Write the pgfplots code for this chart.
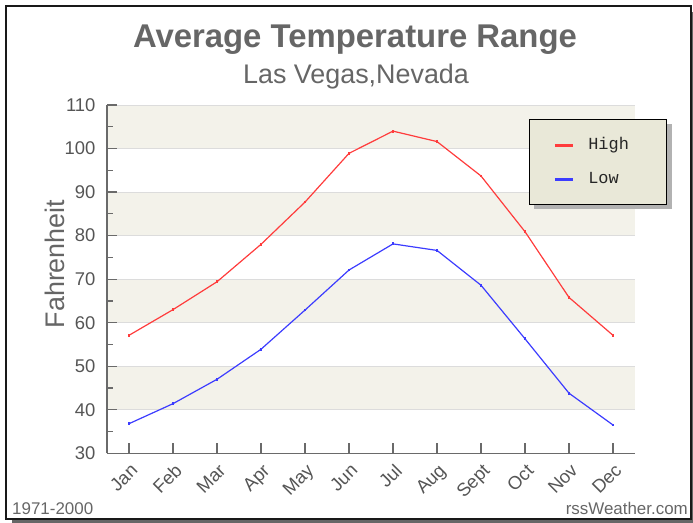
\documentclass[border=0pt]{standalone}
\usepackage{fontspec}
\setmainfont{Liberation Sans}
\newfontfamily\legfont{Liberation Mono}
\usepackage{pgfplots}
\pgfplotsset{compat=1.18}
\definecolor{txtgray}{HTML}{666666}
\definecolor{ticktext}{HTML}{555555}
\definecolor{band}{HTML}{F3F2EA}
\definecolor{gridc}{HTML}{DCDCDC}
\definecolor{axisc}{HTML}{6A6A6A}
\definecolor{hicol}{HTML}{FF3C3C}
\definecolor{locol}{HTML}{3C3CFF}
\definecolor{legbg}{HTML}{E9E8D8}
\begin{document}
\begin{tikzpicture}[x=1bp,y=1bp]
\path (0,0) rectangle (693,-523);
\fill[black!60] (12,-518) rectangle (693,-523);
\fill[black!60] (690,-12) rectangle (693,-523);
\draw[line width=2bp, black!90] (6,-6) rectangle (691,-519);
\fill[black!30] (534,-124) rectangle (672,-209);
\node[anchor=base, text=txtgray, font=\bfseries\fontsize{33}{33}\selectfont] at (355,-48) {Average Temperature Range};
\node[anchor=base, text=txtgray, font=\fontsize{27}{27}\selectfont] at (356,-84) {Las Vegas,Nevada};
\node[anchor=base west, inner sep=0, text=txtgray, font=\fontsize{17}{17}\selectfont] at (12,-514) {1971-2000};
\node[anchor=base east, inner sep=0, text=txtgray, font=\fontsize{17}{17}\selectfont] at (688,-514) {rssWeather.com};
\begin{axis}[
  at={(107bp,-453.3bp)}, anchor=south west,
  scale only axis, width=528bp, height=348.3bp,
  xmin=-0.5, xmax=11.5, ymin=30, ymax=110,
  axis lines*=left,
  axis line style={axisc, line width=1.6bp, -},
  tick align=inside,
  xtick={0,1,2,3,4,5,6,7,8,9,10,11},
  xticklabels={Jan,Feb,Mar,Apr,May,Jun,Jul,Aug,Sept,Oct,Nov,Dec},
  ytick={30,40,50,60,70,80,90,100,110},
  minor ytick={35,45,55,65,75,85,95,105},
  major tick length=10bp, minor tick length=6bp,
  tick style={axisc, line width=1.2bp},
  ymajorgrids, grid style={gridc, line width=1bp},
  set layers,
  /pgf/number format/assume math mode=true,
  ticklabel style={font=\fontsize{18.5}{18.5}\selectfont, text=ticktext},
  yticklabel style={xshift=-8bp},
  xticklabel style={rotate=45, anchor=north east, inner sep=1bp, xshift=-5bp, yshift=-6bp},
  ylabel={Fahrenheit},
  every axis y label/.style={at={(rel axis cs:-0.0985,0.5435)}, rotate=90, anchor=center, font=\fontsize{27}{27}\selectfont, text=txtgray},
  legend style={at={(0.7992,0.9598)}, anchor=north west, draw=black, line width=1.4bp, fill=legbg,
    font=\legfont\fontsize{17}{17}\selectfont, text=black!85,
    inner xsep=24bp, inner ysep=17.5bp, row sep=18bp, column sep=14bp,
    nodes={inner sep=0pt, text height=12bp, text depth=4bp},
    cells={anchor=west}},
  legend image code/.code={\draw[#1, line width=2.6bp, mark=none] (0bp,0bp) -- (18bp,0bp);},
]
\addplot[on layer=axis background, fill=band, draw=none, forget plot] coordinates {(-0.5,100) (11.5,100) (11.5,110) (-0.5,110)} -- cycle;
\addplot[on layer=axis background, fill=band, draw=none, forget plot] coordinates {(-0.5,80) (11.5,80) (11.5,90) (-0.5,90)} -- cycle;
\addplot[on layer=axis background, fill=band, draw=none, forget plot] coordinates {(-0.5,60) (11.5,60) (11.5,70) (-0.5,70)} -- cycle;
\addplot[on layer=axis background, fill=band, draw=none, forget plot] coordinates {(-0.5,40) (11.5,40) (11.5,50) (-0.5,50)} -- cycle;
\addplot[hicol, line width=1.2bp, mark=square*, mark size=0.8bp, mark options={fill=hicol!75!black, draw=none}] coordinates {
(0,57.1) (1,63.0) (2,69.4) (3,78.0) (4,87.7) (5,98.9) (6,104.0) (7,101.6) (8,93.7) (9,80.9) (10,65.8) (11,57.1)};
\addlegendentry{\makebox[54bp][l]{High}}
\addplot[locol, line width=1.2bp, mark=square*, mark size=0.8bp, mark options={fill=locol!75!black, draw=none}] coordinates {
(0,36.8) (1,41.4) (2,47.0) (3,53.9) (4,62.9) (5,72.1) (6,78.1) (7,76.6) (8,68.6) (9,56.3) (10,43.8) (11,36.5)};
\addlegendentry{\makebox[54bp][l]{Low}}
\end{axis}
\end{tikzpicture}
\end{document}
